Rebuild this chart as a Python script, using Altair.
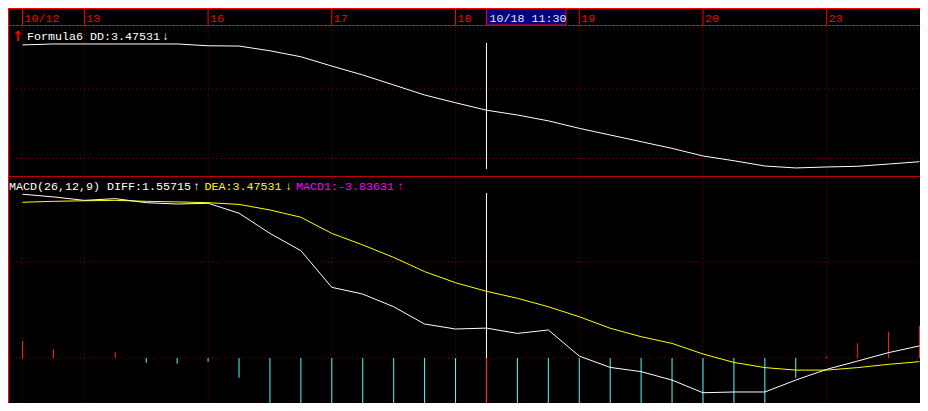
import altair as alt
import pandas as pd

# ---- data ----
bar_index = list(range(30))
dd = [8.17, 8.24, 8.24, 8.24, 8.24, 8.24, 8.11, 8.09, 7.75, 7.32,
      6.65, 6.01, 5.29, 4.57, 4.01, 3.47531, 3.13, 2.71, 2.17, 1.69,
      1.21, 0.73, 0.18, -0.16, -0.54, -0.68, -0.61, -0.56, -0.40, -0.23]
diff = [8.53, 8.39, 8.21, 8.30, 8.09, 8.02, 8.06, 7.54, 6.49, 5.59,
        3.68, 3.33, 2.67, 1.77, 1.51, 1.55715, 1.28, 1.46, 0.10, -0.49,
        -0.71, -1.15, -1.81, -1.77, -1.77, -1.15, -0.59, -0.16, 0.28, 0.63]
dea = [8.11, 8.16, 8.19, 8.21, 8.16, 8.13, 8.09, 8.00, 7.71, 7.33,
       6.49, 5.89, 5.24, 4.50, 3.92, 3.47531, 3.11, 2.67, 2.15, 1.55,
       1.11, 0.76, 0.21, -0.23, -0.50, -0.63, -0.63, -0.50, -0.33, -0.19]
macd = [0.88, 0.47, 0.0, 0.31, -0.24, -0.30, -0.19, -1.03, -2.38, -3.5,
        -5.6, -5.1, -5.1, -5.5, -4.8, -3.83631, -2.59, -3.0, -4.1, -4.1,
        -3.6, -3.8, -4.0, -3.1, -2.48, -1.03, 0.10, 0.77, 1.37, 1.67]
day_index = [0, 2, 6, 10, 14, 18, 22, 26]
day_labels = ["10/12", "13", "16", "17", "18", "19", "20", "23"]
cursor_index = 15
cursor_label = "10/18 11:30"
grid_values = [0, 5]

RED = "#FF2020"
CYAN = "#54FCFC"
GRID = "#8C0000"
FONT = "Liberation Mono"
FS = 11.67
W, H = 912, 395

df = pd.DataFrame({"i": bar_index, "dd": dd, "diff": diff, "dea": dea, "macd": macd})
df["zero"] = 0.0
df["col"] = [RED if (v > 0 or i == cursor_index) else CYAN for i, v in zip(bar_index, macd)]
days = pd.DataFrame({"i": day_index, "lab": day_labels})
grid = pd.DataFrame({"v": grid_values})
cur = pd.DataFrame({"i": [cursor_index], "lab": [cursor_label]})
one = pd.DataFrame({"k": [0]})

xs = alt.Scale(domain=[0, 29], range=[14.5, 911.5], nice=False, zero=False)
X = alt.X("i:Q", scale=xs, axis=None)
ytop = alt.Scale(domain=[0, 5], range=[150.5, 81], nice=False, zero=False)
ymacd = alt.Scale(domain=[0, 5], range=[350, 254], nice=False, zero=False)

layers = []

# vertical dotted day separators
layers.append(alt.Chart(days).mark_rule(color=GRID, strokeDash=[1, 3], strokeWidth=1).encode(
    x=X, y=alt.value(18), y2=alt.value(H)))
# horizontal dotted grid, top panel
layers.append(alt.Chart(grid).mark_rule(color=GRID, strokeDash=[1, 3], strokeWidth=1).encode(
    y=alt.Y("v:Q", scale=ytop, axis=None), x=alt.value(0), x2=alt.value(W)))
# horizontal dotted grid, macd panel
layers.append(alt.Chart(grid).mark_rule(color=GRID, strokeDash=[1, 3], strokeWidth=1).encode(
    y=alt.Y("v:Q", scale=ymacd, axis=None), x=alt.value(0), x2=alt.value(W)))

# header lines
layers.append(alt.Chart(one).mark_rule(color="#FF0000", strokeWidth=1).encode(
    x=alt.value(0), x2=alt.value(W), y=alt.value(0.5)))
layers.append(alt.Chart(one).mark_rule(color="#FF0000", strokeWidth=1, strokeDash=[3, 1]).encode(
    x=alt.value(0), x2=alt.value(W), y=alt.value(17.5)))
layers.append(alt.Chart(days).mark_rule(color="#FF0000", strokeWidth=1).encode(
    x=X, y=alt.value(0), y2=alt.value(17)))
layers.append(alt.Chart(days).mark_text(align="left", baseline="alphabetic", dx=2, font=FONT,
                                        fontSize=FS, color="#FF0000").encode(
    x=X, y=alt.value(13.5), text="lab:N"))
# cursor label box
layers.append(alt.Chart(cur).mark_rect(fill="#000080", stroke="#FF0000", strokeWidth=1).encode(
    x=X, x2=alt.value(558), y=alt.value(0.5), y2=alt.value(17)))
layers.append(alt.Chart(cur).mark_text(align="left", baseline="alphabetic", dx=3, font=FONT,
                                       fontSize=FS, color="#E8E8F0").encode(
    x=X, y=alt.value(13.5), text="lab:N"))

# panel divider and left border
layers.append(alt.Chart(one).mark_rule(color="#C00000", strokeWidth=1).encode(
    x=alt.value(0), x2=alt.value(W), y=alt.value(168.5)))
layers.append(alt.Chart(one).mark_rule(color="#FF0000", strokeWidth=1).encode(
    x=alt.value(0.5), y=alt.value(0), y2=alt.value(H)))

# crosshair
layers.append(alt.Chart(cur).mark_rule(color="#FFFFFF", strokeWidth=1).encode(
    x=X, y=alt.value(35), y2=alt.value(161)))
layers.append(alt.Chart(cur).mark_rule(color="#FFFFFF", strokeWidth=1).encode(
    x=X, y=alt.value(185), y2=alt.value(H)))

# top panel line
layers.append(alt.Chart(df).mark_line(color="#FFFFFF", strokeWidth=1).encode(
    x=X, y=alt.Y("dd:Q", scale=ytop, axis=None)))

# MACD bars
layers.append(alt.Chart(df).mark_rule(strokeWidth=1, clip=True).encode(
    x=X, y=alt.Y("macd:Q", scale=ymacd, axis=None), y2="zero:Q",
    color=alt.Color("col:N", scale=None)))
# DEA and DIFF lines
layers.append(alt.Chart(df).mark_line(color="#FFFF00", strokeWidth=1).encode(
    x=X, y=alt.Y("dea:Q", scale=ymacd, axis=None)))
layers.append(alt.Chart(df).mark_line(color="#FFFFFF", strokeWidth=1).encode(
    x=X, y=alt.Y("diff:Q", scale=ymacd, axis=None)))

# titles
def label(txt, x, y, color, font=FONT, size=FS, weight="normal"):
    return alt.Chart(one).mark_text(text=txt, align="left", baseline="alphabetic", font=font,
                                    fontSize=size, color=color, fontWeight=weight).encode(
        x=alt.value(x), y=alt.value(y))

layers.append(label("\u2191", 4, 33, "#FF0000", font="DejaVu Sans", size=14, weight="bold"))
layers.append(label("Formula6 DD:3.47531", 19, 32, "#FFFFFF"))
layers.append(label("\u2193", 154, 32, "#FFFFFF"))
layers.append(label("MACD(26,12,9)", 1, 182, "#FFFFFF"))
layers.append(label("DIFF:1.55715", 99, 182, "#FFFFFF"))
layers.append(label("\u2191", 185, 182, "#FFFFFF"))
layers.append(label("DEA:3.47531", 196.5, 182, "#FFFF00"))
layers.append(label("\u2193", 277, 182, "#FFFF00"))
layers.append(label("MACD1:-3.83631", 288, 182, "#FF00FF"))
layers.append(label("\u2191", 389, 182, "#FF00FF"))

chart = alt.layer(*layers).resolve_scale(y="independent").properties(
    width=W, height=H, autosize=alt.AutoSizeParams(type="none"), padding=0
).configure(background="#000000").configure_view(stroke=None)

chart.save("out.html", embed_options={"renderer": "svg", "actions": False})
